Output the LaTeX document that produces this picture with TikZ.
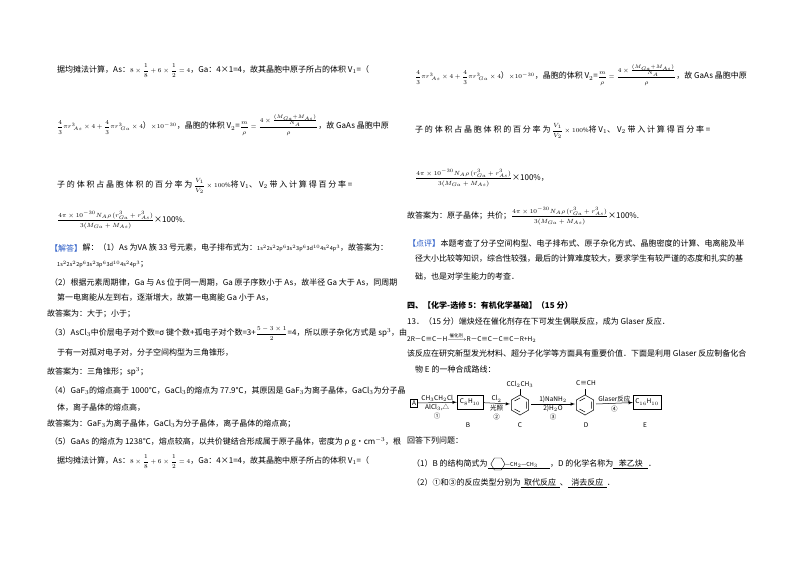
\documentclass[tikz,border=0pt]{standalone}
\usepackage{amsmath}
\usepackage{fontspec}
\setmainfont{Noto Sans CJK SC}
\definecolor{hb}{HTML}{2457C5}
\newcommand{\ecfg}[1]{{\fontsize{5.5}{6}\selectfont #1}}
\newcommand{\mf}[1]{{\fontsize{6}{7}\selectfont$#1$}}
\newcommand{\vfrac}{\mf{\dfrac{m}{\rho}=\dfrac{4\times\frac{(M_{Ga}+M_{As})}{N_A}}{\rho}}}
\newcommand{\pfrac}{\mf{\dfrac{4\pi\times10^{-30}N_A\rho\,(r_{Ga}^3+r_{As}^3)}{3(M_{Ga}+M_{As})}}}
\newcommand{\vone}{\mf{\dfrac{4}{3}\pi r^3_{\;As}\times4+\dfrac{4}{3}\pi r^3_{\;Ga}\times4}）\mf{\times10^{-30}}}
\begin{document}
\begin{tikzpicture}[x=1pt,y=-1pt,
 t/.style={anchor=west,inner sep=0pt,font=\fontsize{8}{9}\selectfont},
 sm/.style={inner sep=0pt,font=\fontsize{6.5}{7}\selectfont},
 bx/.style={draw,inner sep=2pt,font=\fontsize{6.5}{7}\selectfont},
 ar/.style={-latex,line width=0.5pt}]
\useasboundingbox (0,0) rectangle (800,565);
% left column
\node[t] (l1) at (57,71) {据均摊法计算，As：\mf{8\times\dfrac{1}{8}+6\times\dfrac{1}{2}=4}，Ga：4×1=4，故其晶胞中原子所占的体积 V$_1$=（};
\node[t] (l2) at (57,125) {\vone，晶胞的体积 V$_2$=\vfrac，故 GaAs 晶胞中原};
\node[t] (l3) at (57,186) {子\ 的\ 体\ 积\ 占\ 晶\ 胞\ 体\ 积\ 的\ 百\ 分\ 率\ 为 \mf{\dfrac{V_1}{V_2}\times100\%}将\ V$_1$、\ V$_2$\ 带\ 入\ 计\ 算\ 得\ 百\ 分\ 率 =};
\node[t] (l4) at (57,220) {\pfrac×100\%.};
\node[t,text=hb] (l5a) at (50,248) {【解答】};
\node[t] (l5) at (l5a.east) {解：（1）As 为VA 族 33 号元素，电子排布式为：\ecfg{1s$^2$2s$^2$2p$^6$3s$^2$3p$^6$3d$^{10}$4s$^2$4p$^3$}，故答案为：};
\node[t] (l6) at (57,265) {\ecfg{1s$^2$2s$^2$2p$^6$3s$^2$3p$^6$3d$^{10}$4s$^2$4p$^3$}；};
\node[t] (l7) at (50,282) {（2）根据元素周期律，Ga 与 As 位于同一周期，Ga 原子序数小于 As，故半径 Ga 大于 As，同周期};
\node[t] (l8) at (57,298) {第一电离能从左到右，逐渐增大，故第一电离能 Ga 小于 As，};
\node[t] (l9) at (47,314) {故答案为：大于；小于；};
\node[t] (l10) at (50,334) {（3）AsCl$_3$中价层电子对个数=σ 键个数+孤电子对个数=3+\mf{\dfrac{5-3\times1}{2}}=4，所以原子杂化方式是 sp$^3$，由};
\node[t] (l11) at (57,353) {于有一对孤对电子对，分子空间构型为三角锥形，};
\node[t] (l12) at (47,372) {故答案为：三角锥形；sp$^3$；};
\node[t] (l13) at (50,391) {（4）GaF$_3$的熔点高于 1000℃，GaCl$_3$的熔点为 77.9℃，其原因是 GaF$_3$为离子晶体，GaCl$_3$为分子晶};
\node[t] (l14) at (57,408) {体，离子晶体的熔点高，};
\node[t] (l15) at (47,424) {故答案为：GaF$_3$为离子晶体，GaCl$_3$为分子晶体，离子晶体的熔点高；};
\node[t] (l16) at (50,442) {（5）GaAs 的熔点为 1238℃，熔点较高，以共价键结合形成属于原子晶体，密度为 ρ g•cm$^{-3}$，根};
\node[t] (l17) at (57,462) {据均摊法计算，As：\mf{8\times\dfrac{1}{8}+6\times\dfrac{1}{2}=4}，Ga：4×1=4，故其晶胞中原子所占的体积 V$_1$=（};
% right column
\node[t] (r1) at (415,75) {\vone，晶胞的体积 V$_2$=\vfrac，故 GaAs 晶胞中原};
\node[t] (r2) at (415,131) {子\ 的\ 体\ 积\ 占\ 晶\ 胞\ 体\ 积\ 的\ 百\ 分\ 率\ 为 \mf{\dfrac{V_1}{V_2}\times100\%}将\ V$_1$、\ V$_2$\ 带\ 入\ 计\ 算\ 得\ 百\ 分\ 率 =};
\node[t] (r3) at (415,178) {\pfrac×100\%，};
\node[t] (r4) at (407,216) {故答案为：原子晶体；共价；\pfrac×100\%.};
\node[t,text=hb] (r5a) at (408,243) {【点评】};
\node[t] (r5) at (r5a.east) {本题考查了分子空间构型、电子排布式、原子杂化方式、晶胞密度的计算、电离能及半};
\node[t] (r6) at (415,259) {径大小比较等知识，综合性较强，最后的计算难度较大，要求学生有较严谨的态度和扎实的基};
\node[t] (r7) at (415,277) {础，也是对学生能力的考查．};
\node[t,font=\fontsize{8}{9}\selectfont\bfseries] (r8) at (407,305) {四、【化学-选修 5：有机化学基础】（15 分）};
\node[t] (r9) at (407,321) {13．（15 分）端炔烃在催化剂存在下可发生偶联反应，成为 Glaser 反应．};
\node[t] (r10) at (407,338) {\fontsize{6.5}{7}\selectfont 2R－C≡C－H\raisebox{0pt}{\mf{\xrightarrow{\text{\fontsize{4.5}{5}\selectfont 催化剂}}}}R－C≡C－C≡C－R+H$_2$};
\node[t] (r11) at (407,353) {该反应在研究新型发光材料、超分子化学等方面具有重要价值．下面是利用 Glaser 反应制备化合};
\node[t] (r12) at (415,369) {物 E 的一种合成路线：};
% scheme
\node[bx,inner sep=1.5pt] (A) at (414,403) {A};
\node[bx,minimum width=26pt,minimum height=14pt] (B) at (470,402) {C$_8$H$_{10}$};
\node[bx,minimum width=28pt,minimum height=14pt] (E) at (647,402) {C$_{16}$H$_{10}$};
\draw[ar] (A) -- (B) node[midway,above=1pt,sm]{CH$_3$CH$_2$Cl} node[midway,below=1pt,sm]{AlCl$_3$,△} node[midway,below=10pt,sm]{①};
\foreach \n/\cx in {C/520,D/585}{
 \coordinate (\n) at (\cx,405);
 \draw[line width=0.5pt] (\cx,395) -- (\cx+8.7,400) -- (\cx+8.7,410) -- (\cx,415) -- (\cx-8.7,410) -- (\cx-8.7,400) -- cycle;
 \draw[line width=0.5pt] (\cx+6.5,401.5) -- (\cx+6.5,408.5) (\cx-5.5,409) -- (\cx,412) (\cx-5.5,401) -- (\cx,398);
 \draw[line width=0.5pt] (\cx,395) -- (\cx,389);}
\coordinate (Cl) at (510,404); \coordinate (Cr) at (531,404);
\coordinate (Dl) at (575,404); \coordinate (Dr) at (596,404);
\node[sm] (ct) at (520,384) {CCl$_2$CH$_3$};
\node[sm] (dt) at (586,383) {C≡CH};
\draw[ar] (B) -- (Cl) node[midway,above=1pt,sm]{Cl$_2$} node[midway,below=1pt,sm]{光照} node[midway,below=10pt,sm]{②};
\draw[ar] (Cr) -- (Dl) node[midway,above=1pt,sm]{1)NaNH$_2$} node[midway,below=1pt,sm]{2)H$_2$O} node[midway,below=10pt,sm]{③};
\draw[ar] (Dr) -- (E) node[midway,above=1pt,sm]{Glaser反应} node[midway,below=2pt,sm]{④};
\node[sm] (lb) at (468,425) {B};
\node[sm] (lc) at (520,425) {C};
\node[sm] (ld) at (586,425) {D};
\node[sm] (le) at (645,425) {E};
\node[t] (r13) at (407,440) {回答下列问题：};
\node[t] (r14a) at (412,464) {（1）B 的结构简式为\underline{\hspace{62pt}}};
\node[t] (r14b) at (r14a.east) {，D 的化学名称为\underline{\ \ \ 苯乙炔\ \ \ }．};
\coordinate (hx) at ([xshift=-52pt]r14a.east);
\draw[line width=0.4pt] ([xshift=-7pt]hx) -- ++(3.5,-6) -- ++(7,0) -- ++(3.5,6) -- ++(-3.5,6) -- ++(-7,0) -- cycle;
\node[sm,anchor=west] (bt) at ([xshift=7pt,yshift=-1pt]hx) {\ecfg{—CH$_2$—CH$_3$}};
\node[t] (r15) at (412,483) {（2）①和③的反应类型分别为\underline{\ \ 取代反应\ \ }、\underline{\ \ 消去反应\ \ }．};
\end{tikzpicture}
\end{document}
